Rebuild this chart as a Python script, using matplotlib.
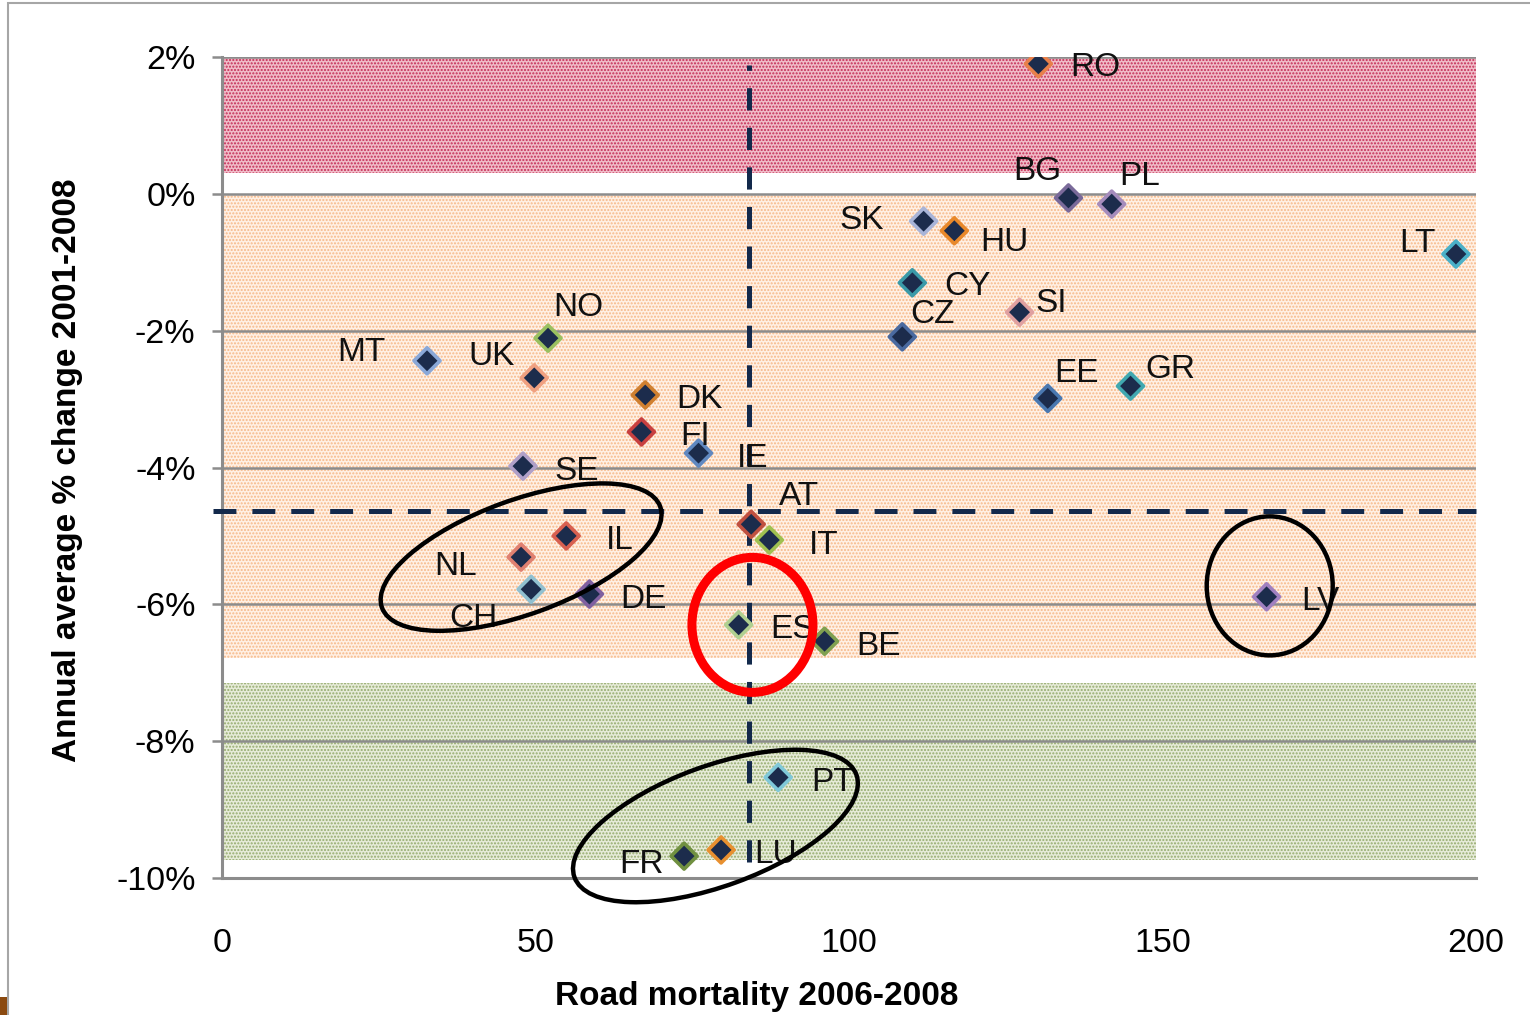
import matplotlib
matplotlib.use("Agg")
import matplotlib.pyplot as plt
from matplotlib.patches import Ellipse, Rectangle
from matplotlib.transforms import ScaledTranslation

# Road mortality 2006-2008 vs annual average % change 2001-2008
countries = ['RO', 'BG', 'PL', 'SK', 'HU', 'LT', 'CY', 'SI', 'CZ', 'NO',
             'MT', 'UK', 'DK', 'GR', 'EE', 'FI', 'IE', 'SE', 'AT', 'IL',
             'IT', 'NL', 'CH', 'DE', 'LV', 'ES', 'BE', 'PT', 'LU', 'FR']
mortality = [130.2, 135.0, 141.9, 111.9, 116.8, 196.8, 110.1, 127.2, 108.5, 52.0,
             32.7, 49.8, 67.5, 144.9, 131.7, 66.9, 76.0, 48.0, 84.4, 54.9,
             87.3, 47.7, 49.3, 58.6, 166.6, 82.4, 96.1, 88.7, 79.6, 73.7]
change_pct = [1.90, -0.06, -0.15, -0.40, -0.54, -0.88, -1.30, -1.73, -2.09, -2.11,
              -2.44, -2.69, -2.94, -2.81, -2.99, -3.48, -3.79, -3.98, -4.83, -5.00,
              -5.06, -5.31, -5.78, -5.85, -5.89, -6.30, -6.54, -8.53, -9.59, -9.68]

# EU averages shown as dashed reference lines
avg_mortality = 84.0
avg_change = -4.64

# shaded zones (lower, upper) in %
zone_red = (0.30, 2.0)
zone_orange = (-6.79, 0.0)
zone_green = (-9.74, -7.15)

x_ticks = [0, 50, 100, 150, 200]
y_ticks = [-10, -8, -6, -4, -2, 0, 2]

edge_colors = {
    'RO': '#e8804a', 'BG': '#7a6a9a', 'PL': '#a58cbc', 'SK': '#a8b4d8', 'HU': '#e8882a',
    'LT': '#4ab0c8', 'CY': '#3a9aa8', 'SI': '#e0a0a0', 'CZ': '#4a6aa0', 'NO': '#9ac060',
    'MT': '#8aa8d8', 'UK': '#f0a080', 'DK': '#d08030', 'GR': '#40a8b0', 'EE': '#4a78b0',
    'FI': '#c84040', 'IE': '#6088c0', 'SE': '#b0a0c8', 'AT': '#c05040', 'IL': '#d86050',
    'IT': '#a0c050', 'NL': '#e08070', 'CH': '#90c0d0', 'DE': '#8060a0', 'LV': '#a080c0',
    'ES': '#b0d090', 'BE': '#80a050', 'PT': '#80c8d8', 'LU': '#e89030', 'FR': '#709040',
}

# label offsets in pixels (default to the right of the marker)
label_offsets = {
    'RO': (57, -4), 'BG': (-31, 26), 'PL': (28, 28), 'SK': (-62, 1), 'HU': (50, -12),
    'LT': (-38, 11), 'CY': (55, -4), 'SI': (32, 9), 'CZ': (30, 22), 'NO': (30, 31),
    'MT': (-66, 8), 'UK': (-43, 21), 'GR': (40, 17), 'EE': (29, 25), 'AT': (48, 28),
    'NL': (-66, -9), 'CH': (-58, -29), 'FR': (-43, -8),
}

plt.rcParams['lines.scale_dashes'] = False
plt.rcParams['hatch.linewidth'] = 1.0

fig = plt.figure(figsize=(15.3, 10.15), dpi=100)
ax = fig.add_axes([222 / 1530, 1 - 878 / 1015, (1476 - 222) / 1530, (878 - 57) / 1015])

ax.set_xlim(0, 200)
ax.set_ylim(-10, 2)

# background zones
ax.fill_between([0, 200], *zone_red, facecolor='#f0bcc8', edgecolor='#c42c55',
                hatch='.....', linewidth=0, zorder=1)
ax.fill_between([0, 200], *zone_orange, facecolor='#fff0e4', edgecolor='#f6b888',
                hatch='.....', linewidth=0, zorder=1)
ax.fill_between([0, 200], *zone_green, facecolor='#e6ebd8', edgecolor='#94aa6c',
                hatch='.....', linewidth=0, zorder=1)

ax.set_yticks(y_ticks)
ax.set_yticklabels([f'{v}%' for v in y_ticks])
ax.set_xticks(x_ticks)
ax.yaxis.grid(True, color='#8c8c8c', linewidth=1.8, zorder=2)
ax.set_axisbelow(False)

for side in ['top', 'right']:
    ax.spines[side].set_visible(False)
for side in ['left', 'bottom']:
    ax.spines[side].set_color('#8c8c8c')
    ax.spines[side].set_linewidth(2.2)

ax.tick_params(axis='y', direction='out', length=7, width=1.8, color='#8c8c8c',
               pad=12, labelsize=24.5)
ax.tick_params(axis='x', length=0, pad=36, labelsize=24.5)
for lbl in ax.get_xticklabels() + ax.get_yticklabels():
    lbl.set_fontfamily(['Liberation Sans', 'DejaVu Sans'])

# average lines
ax.plot([-1.5, 200], [avg_change, avg_change], color='#13294b', linewidth=3.6,
        dashes=(16.5, 11.5), clip_on=False, zorder=3)
ax.plot([avg_mortality, avg_mortality], [-9.77, 1.88], color='#13294b', linewidth=3.6,
        dashes=(16, 12.5), zorder=3)

# countries
ax.scatter(mortality, change_pct, marker='D', s=175, facecolor='#1c2c4c',
           edgecolors=[edge_colors[c] for c in countries], linewidths=2.6, zorder=4)

font = ['Liberation Sans', 'DejaVu Sans']
for c, x, y in zip(countries, mortality, change_pct):
    dx, dy = label_offsets.get(c, (54, -5))
    ax.annotate(c, (x, y), xytext=(dx, dy), textcoords='offset pixels',
                ha='center', va='center', fontsize=24, family=font,
                color='#111111', zorder=5)

# highlight rings (sizes in pixels, centred in data coords)
def ring(cx, cy, w, h, angle, color, lw):
    tr = fig.dpi_scale_trans + ScaledTranslation(cx, cy, ax.transData)
    ax.add_patch(Ellipse((0, 0), w / 100, h / 100, angle=angle, transform=tr,
                         fill=False, edgecolor=color, linewidth=lw, zorder=6,
                         clip_on=False))

ring(47.7, -5.31, 296, 114, 20, 'black', 3.2)
ring(78.7, -9.24, 300, 120, 20, 'black', 3.2)
ring(167.1, -5.73, 126, 139, 0, 'black', 3.2)
ring(84.6, -6.30, 121, 135, 0, '#ff0000', 6.5)

fig.text(757 / 1530, 1 - 997 / 1015, 'Road mortality 2006-2008', ha='center',
         va='center', fontsize=24, fontweight='bold', family=font)
fig.text(68 / 1530, 1 - 470 / 1015, 'Annual average % change 2001-2008', ha='center',
         va='center', rotation=90, fontsize=24, fontweight='bold', family=font)

# slide frame
fig.patches.append(Rectangle((8 / 1530, -0.02), 1.0, 1.02 - 3 / 1015,
                             transform=fig.transFigure, fill=False,
                             edgecolor='#a6a6a6', linewidth=1.5))
fig.patches.append(Rectangle((0, 0), 7 / 1530, 18 / 1015, transform=fig.transFigure,
                             facecolor='#8b4a10', edgecolor='none'))

fig.savefig('out.png', dpi=100)
